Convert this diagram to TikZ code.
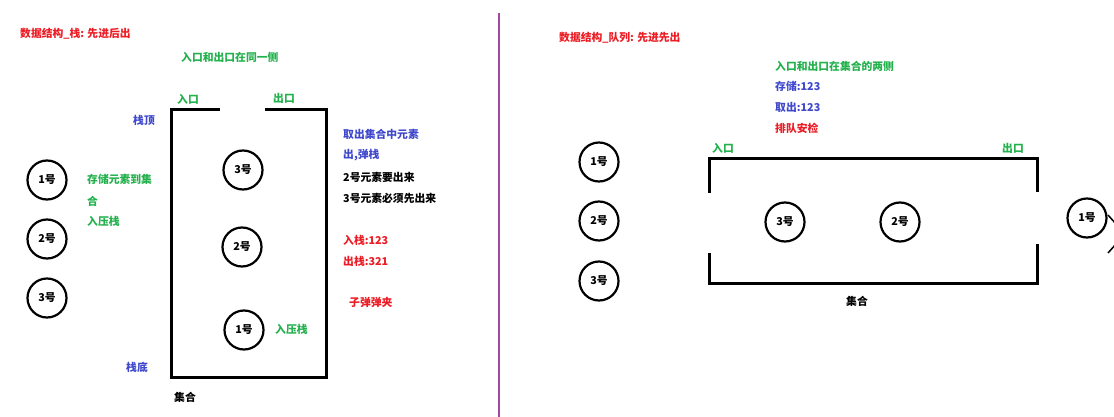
\documentclass[tikz,border=0pt]{standalone}
\usepackage{fontspec}
\setmainfont{Noto Sans CJK SC}
\definecolor{pred}{RGB}{237,28,36}
\definecolor{pgreen}{RGB}{34,177,76}
\definecolor{pblue}{RGB}{63,72,204}
\definecolor{ppurple}{RGB}{163,73,164}
\begin{document}
\begin{tikzpicture}[x=1pt,y=-1pt,
  lbl/.style={anchor=west,inner sep=0pt,font=\fontsize{10.8}{12}\selectfont\bfseries},
  ball/.style={circle,draw,line width=2.2pt,minimum size=39pt,inner sep=0pt,font=\fontsize{10.8}{12}\selectfont\bfseries},
  wall/.style={line width=3pt,line cap=rect}]
\useasboundingbox[fill=white] (0,0) rectangle (1114,417);
% divider
\draw[ppurple,line width=2pt] (499,13) -- (499,417);

% ---------- left: stack ----------
\node[lbl,text=pred] (t1) at (20,34) {数据结构\_栈: 先进后出};
\node[lbl,text=pgreen] (t2) at (181,57) {入口和出口在同一侧};
\node[lbl,text=pgreen] (in1) at (177,99) {入口};
\node[lbl,text=pgreen] (out1) at (273,98) {出口};
\node[lbl,text=pblue] (top) at (133,120) {栈顶};
\node[lbl,text=pblue] (bot) at (126,367) {栈底};
\node[lbl] (set1) at (174,397) {集合};
\draw[wall] (218,110) -- (171,110) -- (171,377) -- (326,377) -- (326,110) -- (266,110);

\node[ball] (l1) at (47,180) {1号};
\node[ball] (l2) at (47,239) {2号};
\node[ball] (l3) at (47,298) {3号};

\node[lbl,text=pgreen] (s1) at (87,179) {存储元素到集};
\node[lbl,text=pgreen] (s2) at (87,201) {合};
\node[lbl,text=pgreen] (s3) at (87,221) {入压栈};

\node[ball] (k3) at (243,170) {3号};
\node[ball] (k2) at (242,247) {2号};
\node[ball] (k1) at (244,330) {1号};
\node[lbl,text=pgreen] (push) at (275,329) {入压栈};

\node[lbl,text=pblue] (r1) at (343,134) {取出集合中元素};
\node[lbl,text=pblue] (r2) at (343,155) {出,弹栈};
\node[lbl] (r3) at (343,177) {2号元素要出来};
\node[lbl] (r4) at (343,198) {3号元素必须先出来};
\node[lbl,text=pred] (r5) at (343,240) {入栈:123};
\node[lbl,text=pred] (r6) at (343,261) {出栈:321};
\node[lbl,text=pred] (r7) at (349,302) {子弹弹夹};

% ---------- right: queue ----------
\node[lbl,text=pred] (q1) at (559,38) {数据结构\_队列: 先进先出};
\node[lbl,text=pgreen] (q2) at (775,66) {入口和出口在集合的两侧};
\node[lbl,text=pblue] (q3) at (775,86) {存储:123};
\node[lbl,text=pblue] (q4) at (775,107) {取出:123};
\node[lbl,text=pred] (q5) at (775,128) {排队安检};
\node[lbl,text=pgreen] (in2) at (712,148) {入口};
\node[lbl,text=pgreen] (out2) at (1002,148) {出口};
\node[lbl] (set2) at (846,301) {集合};

\draw[wall] (709,191) -- (709,159) -- (1037,159) -- (1037,190);
\draw[wall] (709,254) -- (709,283) -- (1037,283) -- (1037,245);

\node[ball] (a1) at (599,162) {1号};
\node[ball] (a2) at (599,221) {2号};
\node[ball] (a3) at (599,281) {3号};
\node[ball] (b3) at (785,222) {3号};
\node[ball] (b2) at (900,222) {2号};
\node[ball] (b1) at (1087,218) {1号};

\draw[line width=1.5pt] (1108,215) -- (1116,224);
\draw[line width=1.5pt] (1108,253) -- (1116,244);
\end{tikzpicture}
\end{document}
